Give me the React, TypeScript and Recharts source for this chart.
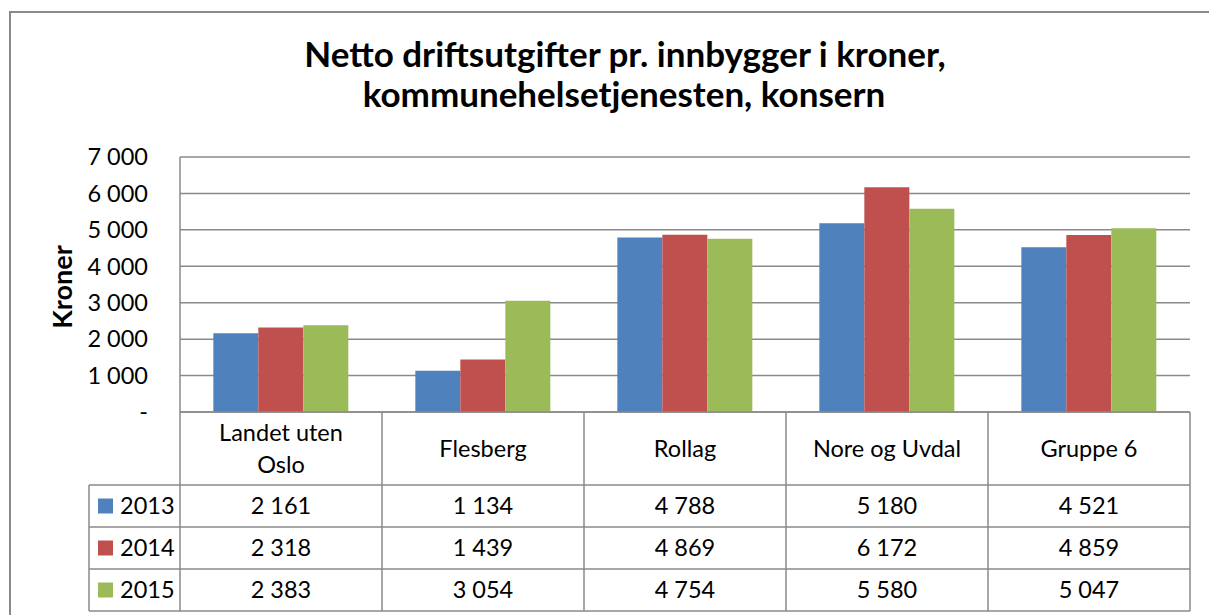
import { BarChart, Bar, XAxis, YAxis, CartesianGrid, Customized } from 'recharts';

const categories = ['Landet uten Oslo', 'Flesberg', 'Rollag', 'Nore og Uvdal', 'Gruppe 6'];
const years = ['2013', '2014', '2015'];
const values2013 = [2161, 1134, 4788, 5180, 4521];
const values2014 = [2318, 1439, 4869, 6172, 4859];
const values2015 = [2383, 3054, 4754, 5580, 5047];
const yTicks = [0, 1000, 2000, 3000, 4000, 5000, 6000, 7000];
const colors = ['#4F81BD', '#C0504D', '#9BBB59'];

const series = [values2013, values2014, values2015];
const data = categories.map((name, i) => ({
  name,
  y2013: values2013[i],
  y2014: values2014[i],
  y2015: values2015[i],
}));

const W = 1209;
const H = 615;
const PLOT_LEFT = 180;
const PLOT_RIGHT = 1190;
const PLOT_TOP = 157;
const PLOT_BOTTOM = 412;
const COL_W = (PLOT_RIGHT - PLOT_LEFT) / categories.length;
const HEADER_BOTTOM = 485;
const ROW_H = 42;
const LEGEND_LEFT = 89;
const LINE = '#8a8a8a';
const FONT = 'Lato, "Open Sans", sans-serif';
const FS = 23.5;

const fmt = (v: number) => (v === 0 ? '-' : String(v).replace(/\B(?=(\d{3})+(?!\d))/g, ' '));

// break a header label into lines of at most 13 characters
function wrap(label: string, max = 13) {
  const lines: string[] = [];
  let cur = '';
  label.split(' ').forEach((w) => {
    const next = cur ? cur + ' ' + w : w;
    if (next.length > max && cur) {
      lines.push(cur);
      cur = w;
    } else {
      cur = next;
    }
  });
  if (cur) lines.push(cur);
  return lines;
}

function TableTick(props: any) {
  const { x, index } = props;
  const left = x - COL_W / 2;
  const right = x + COL_W / 2;
  const tableBottom = HEADER_BOTTOM + ROW_H * years.length;
  const lines = wrap(categories[index]);
  const midY = (PLOT_BOTTOM + HEADER_BOTTOM) / 2;
  const lh = 32;
  return (
    <g>
      {index === 0 && (
        <g>
          <line x1={PLOT_LEFT} y1={PLOT_BOTTOM} x2={PLOT_LEFT} y2={tableBottom} stroke={LINE} strokeWidth={1.5} />
          <line x1={LEGEND_LEFT} y1={HEADER_BOTTOM} x2={LEGEND_LEFT} y2={tableBottom} stroke={LINE} strokeWidth={1.5} />
          {years.map((yr, r) => {
            const cy = HEADER_BOTTOM + ROW_H * r + ROW_H / 2;
            return (
              <g key={yr}>
                <line x1={LEGEND_LEFT} y1={HEADER_BOTTOM + ROW_H * r} x2={PLOT_LEFT} y2={HEADER_BOTTOM + ROW_H * r} stroke={LINE} strokeWidth={1.5} />
                <rect x={98} y={cy - 7.5} width={15} height={15} fill={colors[r]} />
                <text x={120} y={cy} dy="0.36em" fontSize={FS} fill="#000" fontFamily={FONT}>{yr}</text>
              </g>
            );
          })}
          <line x1={LEGEND_LEFT} y1={tableBottom} x2={PLOT_LEFT} y2={tableBottom} stroke={LINE} strokeWidth={1.5} />
        </g>
      )}
      <line x1={right} y1={PLOT_BOTTOM} x2={right} y2={tableBottom} stroke={LINE} strokeWidth={1.5} />
      {lines.map((ln, k) => (
        <text
          key={k}
          x={x}
          y={midY + (k - (lines.length - 1) / 2) * lh}
          dy="0.36em"
          textAnchor="middle"
          fontSize={FS}
          fill="#000"
          fontFamily={FONT}
        >
          {ln}
        </text>
      ))}
      {series.map((vals, r) => {
        const top = HEADER_BOTTOM + ROW_H * r;
        return (
          <g key={r}>
            <line x1={left} y1={top} x2={right} y2={top} stroke={LINE} strokeWidth={1.5} />
            <text x={x} y={top + ROW_H / 2} dy="0.36em" textAnchor="middle" fontSize={FS} fill="#000" fontFamily={FONT}>
              {fmt(vals[index])}
            </text>
          </g>
        );
      })}
      <line x1={left} y1={tableBottom} x2={right} y2={tableBottom} stroke={LINE} strokeWidth={1.5} />
    </g>
  );
}

function Title() {
  return (
    <g fontFamily={FONT} fontWeight="bold" fill="#000" textAnchor="middle">
      <text x={625} y={67} fontSize={35}>Netto driftsutgifter pr. innbygger i kroner,</text>
      <text x={624} y={107} fontSize={35}>kommunehelsetjenesten, konsern</text>
      <text x={62} y={287} transform="rotate(-90 62 287)" dy="0.36em" fontSize={27}>
        Kroner
      </text>
    </g>
  );
}

export default function App() {
  return (
    <div style={{ position: 'absolute', left: 0, top: 0, width: W, height: H, overflow: 'hidden', background: '#fff' }}>
      <div
        style={{
          position: 'absolute',
          left: 9,
          top: 11,
          width: 1300,
          height: 700,
          border: '2px solid #8a8a8a',
        }}
      />
      <div style={{ position: 'absolute', left: 0, top: 0 }}>
        <BarChart
          width={W}
          height={H}
          data={data}
          margin={{ top: PLOT_TOP, right: W - PLOT_RIGHT, bottom: 0, left: 90 }}
          barCategoryGap="16.5%"
          barGap={0}
          style={{ fontFamily: FONT }}
        >
          <CartesianGrid vertical={false} stroke={LINE} strokeWidth={1.5} />
          <YAxis
            width={90}
            domain={[0, 7000]}
            ticks={yTicks}
            interval={0}
            tickFormatter={fmt}
            tickLine={false}
            tickSize={0}
            tickMargin={32}
            axisLine={{ stroke: LINE, strokeWidth: 1.5 }}
            tick={{ fill: '#000', fontSize: FS, fontFamily: FONT }}
          />
          <XAxis
            dataKey="name"
            height={H - PLOT_BOTTOM}
            interval={0}
            tickLine={false}
            axisLine={{ stroke: LINE, strokeWidth: 1.5 }}
            tick={(p: any) => <TableTick {...p} />}
          />
          <Bar dataKey="y2013" fill={colors[0]} isAnimationActive={false} />
          <Bar dataKey="y2014" fill={colors[1]} isAnimationActive={false} />
          <Bar dataKey="y2015" fill={colors[2]} isAnimationActive={false} />
          <Customized component={Title} />
        </BarChart>
      </div>
    </div>
  );
}
